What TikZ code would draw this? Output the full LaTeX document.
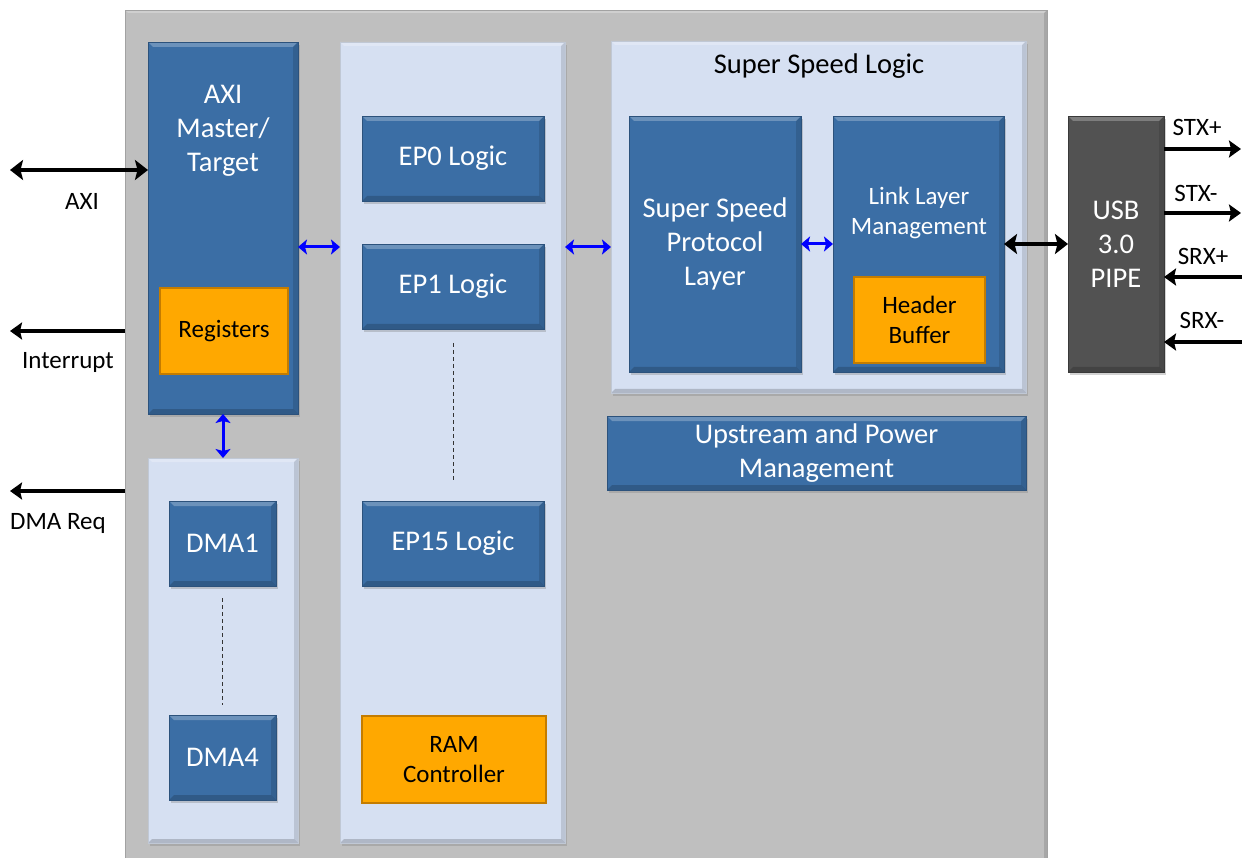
\documentclass[tikz,border=0pt]{standalone}
\usepackage{fontspec}
\setmainfont{Carlito}
\usetikzlibrary{arrows.meta,shadows}
\definecolor{bluebox}{RGB}{59,110,165}
\definecolor{lightc}{RGB}{214,224,242}
\definecolor{grayc}{RGB}{191,191,191}
\definecolor{orangef}{RGB}{255,168,0}
\definecolor{oranged}{RGB}{196,124,0}
\definecolor{usbc}{RGB}{82,82,82}
\begin{document}
\begin{tikzpicture}[x=1pt,y=-1pt,
  bev/.style={path picture={
    \fill[white,opacity=0.25] (path picture bounding box.north west) -- (path picture bounding box.north east)
      -- ([xshift=-#1,yshift=-#1]path picture bounding box.north east) -- ([xshift=#1,yshift=-#1]path picture bounding box.north west) -- cycle;
    \fill[black,opacity=0.18] (path picture bounding box.south west) -- (path picture bounding box.south east)
      -- ([xshift=-#1,yshift=#1]path picture bounding box.south east) -- ([xshift=#1,yshift=#1]path picture bounding box.south west) -- cycle;
    \fill[black,opacity=0.12] (path picture bounding box.north east) -- (path picture bounding box.south east)
      -- ([xshift=-#1,yshift=#1]path picture bounding box.south east) -- ([xshift=-#1,yshift=-#1]path picture bounding box.north east) -- cycle;
  }},
  shd/.style={drop shadow={opacity=0.35,shadow xshift=2pt,shadow yshift=-3pt}},
  bigtxt/.style={font=\fontsize{28.5}{34}\selectfont},
  smalltxt/.style={font=\fontsize{25}{29.5}\selectfont},
  blk/.style={draw=bluebox!75!black,line width=0.6pt,fill=bluebox,text=white,inner sep=0pt,outer sep=0pt,align=center,bigtxt,shd,bev=5pt},
  lc/.style={draw=lightc!75!gray,line width=0.6pt,fill=lightc,inner sep=0pt,outer sep=0pt,shd,bev=4pt},
  org/.style={draw=oranged,line width=2pt,fill=orangef,text=black,inner sep=0pt,outer sep=0pt,align=center,smalltxt},
  usbbox/.style={draw=usbc!70!black,line width=0.6pt,fill=usbc,text=white,inner sep=0pt,outer sep=0pt,align=center,bigtxt,shd,bev=5pt},
  lbl/.style={text=black,smalltxt,inner sep=0pt,align=center},
  barrow/.style={line width=3.5pt,draw=black,-{Stealth[length=12pt,width=17pt,inset=2pt]}},
  bdarrow/.style={line width=3.8pt,draw=black,{Stealth[length=13pt,width=20pt,inset=2.5pt]}-{Stealth[length=13pt,width=20pt,inset=2.5pt]}},
  blarrow/.style={line width=3pt,draw=blue,{Stealth[length=9pt,width=15pt,inset=2pt]}-{Stealth[length=9pt,width=15pt,inset=2pt]}},
  dots/.style={draw=black!80,line width=1pt,dash pattern=on 4pt off 3pt}
]
\useasboundingbox (0,0) rectangle (1242,858);
\fill[white] (0,0) rectangle (1242,858);

% main gray area
\node[fill=grayc,draw=grayc!85!black,line width=0.8pt,inner sep=0pt,outer sep=0pt,minimum width=922,minimum height=852,bev=3pt] (main) at (586,436) {};

% AXI master
\node[blk,minimum width=150,minimum height=372] (axi) at (223,228) {};
\node[bigtxt,text=white,align=center,inner sep=0pt] (axit) at (223,131) {AXI\\Master/\\Target};
\node[org,minimum width=128,minimum height=86] (reg) at (224,331) {Registers};

% DMA container
\node[lc,minimum width=150,minimum height=385] (dmac) at (223,650.5) {};
\node[blk,minimum width=107,minimum height=85] (dma1) at (222.5,543.5) {DMA1};
\node[blk,minimum width=107,minimum height=85] (dma4) at (222.5,757.5) {DMA4};
\draw[dots] ([yshift=-12pt]dma1.south) -- ([yshift=10pt]dma4.north);

% EP container
\node[lc,minimum width=225,minimum height=801] (epc) at (452.5,442.5) {};
\node[blk,minimum width=182,minimum height=85] (ep0) at (453,158.5) {EP0 Logic};
\node[blk,minimum width=182,minimum height=85] (ep1) at (453,286.5) {EP1 Logic};
\node[blk,minimum width=182,minimum height=85] (ep15) at (453,543.5) {EP15 Logic};
\draw[dots] ([yshift=-14pt]ep1.south) -- ([yshift=19pt]ep15.north);
\node[org,minimum width=184,minimum height=87] (ram) at (454,759.5) {RAM\\Controller};

% SuperSpeed logic
\node[lc,minimum width=415,minimum height=352] (ssl) at (818.5,217) {};
\node[bigtxt,text=black,inner sep=0pt] (sslt) at (819,66) {Super Speed Logic};
\node[blk,minimum width=172,minimum height=256] (ssp) at (715,244) {Super Speed\\Protocol\\Layer};
\node[blk,minimum width=171,minimum height=256] (llm) at (918.5,244) {};
\node[smalltxt,text=white,align=center,inner sep=0pt] (llmt) at (919,213) {Link Layer\\Management};
\node[org,minimum width=131,minimum height=86] (hb) at (919.5,320) {Header\\Buffer};

% Upstream
\node[blk,minimum width=419,minimum height=74] (up) at (816.5,453) {Upstream and Power\\Management};

% USB PIPE
\node[usbbox,minimum width=96,minimum height=256] (usb) at (1116,244) {USB\\3.0\\PIPE};

% left side signals
\coordinate (axiL) at (10,170);
\coordinate (intL) at (10,331);
\coordinate (dmaL) at (10,491);
\draw[bdarrow] (axiL) -- (axiL -| axi.west);
\draw[barrow] (intL -| main.west) -- (intL);
\draw[barrow] (dmaL -| main.west) -- (dmaL);
\node[lbl] (axil) at (82,201) {AXI};
\node[lbl] (intl) at (68,362) {Interrupt};
\node[lbl] (dmal) at (58,523) {DMA Req};

% internal blue links
\coordinate (bl) at (0,247);
\draw[blarrow] (axi.south) -- (dmac.north);
\draw[blarrow] (bl -| axi.east) -- (bl -| epc.west);
\draw[blarrow] (bl -| epc.east) -- (bl -| ssl.west);
\draw[blarrow] (ssp.east) -- (llm.west);
\draw[bdarrow] (llm.east) -- (usb.west);

% right side signals
\coordinate (stxp) at (1241,149);
\coordinate (stxm) at (1241,213);
\coordinate (srxp) at (1242,277);
\coordinate (srxm) at (1242,342);
\draw[barrow] (stxp -| usb.east) -- (stxp);
\draw[barrow] (stxm -| usb.east) -- (stxm);
\draw[barrow] (srxp) -- (srxp -| usb.east);
\draw[barrow] (srxm) -- (srxm -| usb.east);
\node[lbl] (stxpl) at (1197,127) {STX+};
\node[lbl] (stxml) at (1196,193) {STX-};
\node[lbl] (srxpl) at (1203,256) {SRX+};
\node[lbl] (srxml) at (1202,320) {SRX-};
\end{tikzpicture}
\end{document}
